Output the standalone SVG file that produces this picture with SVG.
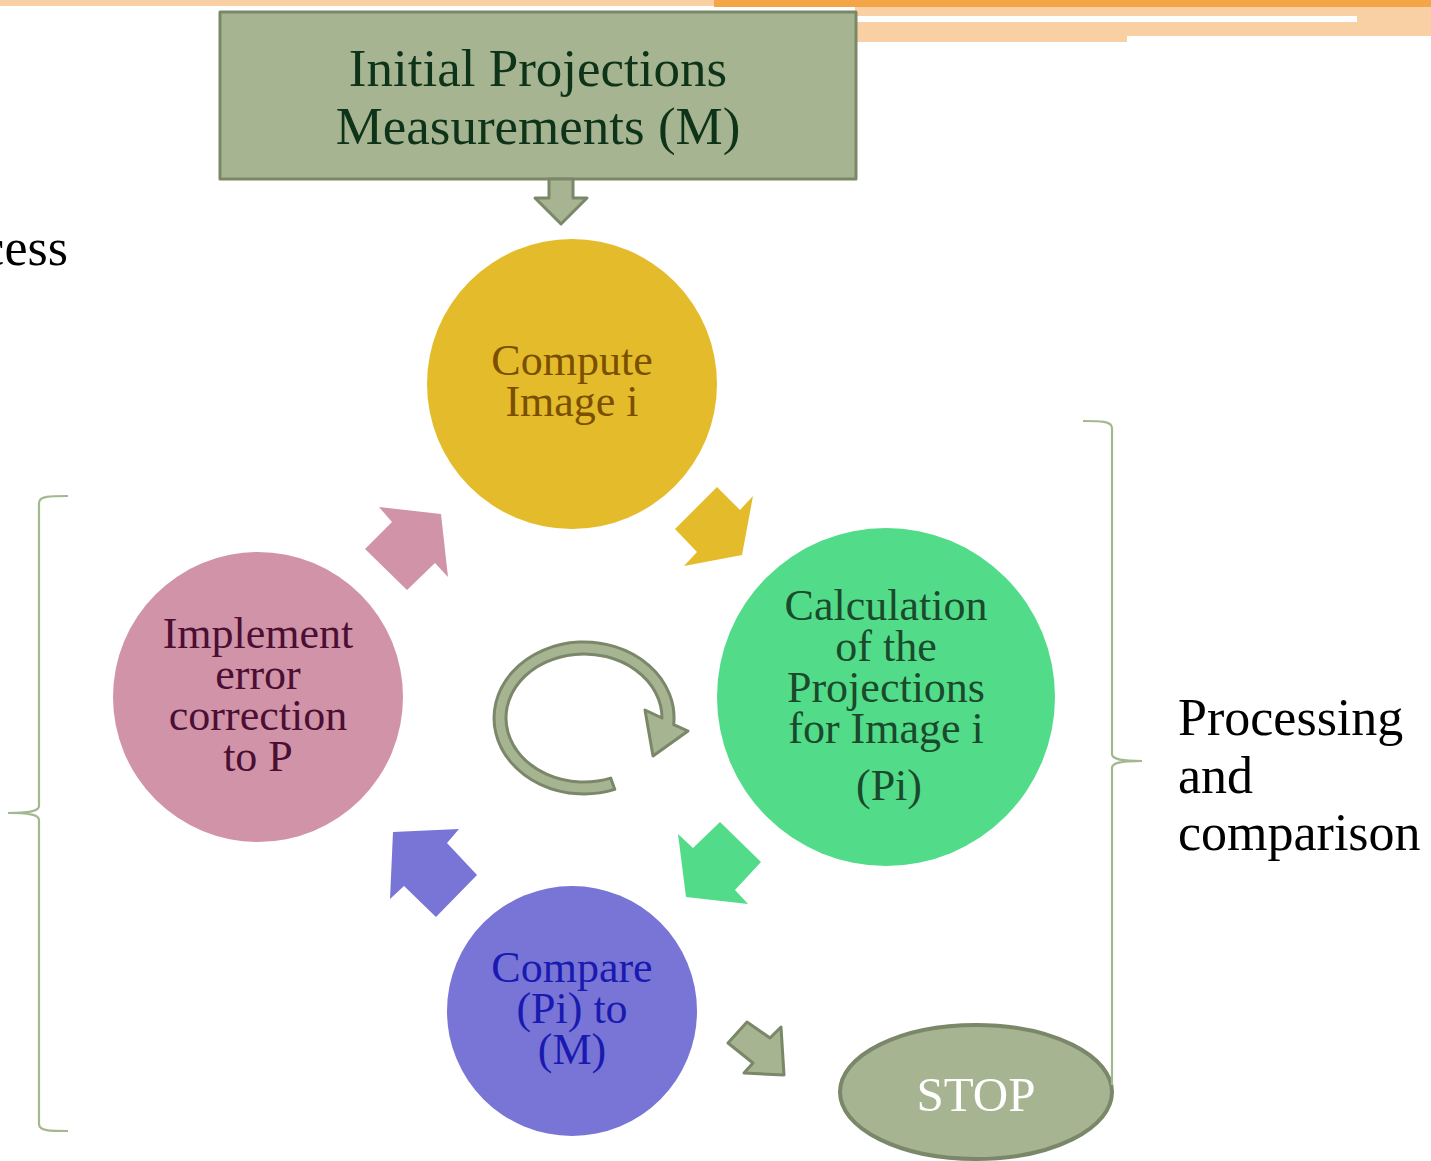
<svg xmlns="http://www.w3.org/2000/svg" width="1431" height="1161" viewBox="0 0 1431 1161">
  <style>
    .serif { font-family: "Liberation Serif", "Times New Roman", serif; }
    .sage { fill: #a6b491; stroke: #7a8769; stroke-width: 3; stroke-linejoin: round; }
    .brace { fill: none; stroke: #a3b88f; stroke-width: 2.2; }
    .ctext { font-size: 44px; text-anchor: middle; }
    .side { font-size: 52px; fill: #000; }
  </style>
  <rect width="1431" height="1161" fill="#ffffff"/>

  <!-- header bands -->
  <g id="header">
    <rect x="0" y="0" width="714" height="6" fill="#f9d0a3"/>
    <rect x="714" y="0" width="717" height="7" fill="#f4a548"/>
    <rect x="855" y="7" width="576" height="29" fill="#f9d0a3"/>
    <rect x="855" y="36" width="272" height="6" fill="#f9d0a3"/>
    <rect x="855" y="16" width="502" height="6" fill="#ffffff"/>
  </g>

  <!-- partially visible side caption -->
  <text class="serif side" x="68" y="265" text-anchor="end">cess</text>

  <!-- source box -->
  <g id="measurements">
    <rect class="sage" x="220" y="12" width="636" height="167"/>
    <text class="serif" x="538" y="86" font-size="53" text-anchor="middle" fill="#0d3318">Initial Projections</text>
    <text class="serif" x="538" y="144" font-size="53" text-anchor="middle" fill="#0d3318">Measurements (M)</text>
  </g>

  <g id="compute">
    <circle cx="572" cy="384" r="145" fill="#e4bb2a"/>
    <text class="serif ctext" x="572" y="375" fill="#7a5000">Compute</text>
    <text class="serif ctext" x="572" y="416" fill="#7a5000">Image i</text>
  </g>

  <g id="calculation">
    <circle cx="886" cy="697" r="169" fill="#52dc8a"/>
    <text class="serif ctext" x="886" y="620" fill="#1a4a2b">Calculation</text>
    <text class="serif ctext" x="886" y="661" fill="#1a4a2b">of the</text>
    <text class="serif ctext" x="886" y="702" fill="#1a4a2b">Projections</text>
    <text class="serif ctext" x="886" y="743" fill="#1a4a2b">for Image i</text>
    <text class="serif ctext" x="889" y="800" fill="#1a4a2b">(Pi)</text>
  </g>

  <g id="compare">
    <circle cx="572" cy="1011" r="125" fill="#7875d6"/>
    <text class="serif ctext" x="572" y="982" fill="#1a1ab0">Compare</text>
    <text class="serif ctext" x="572" y="1023" fill="#1a1ab0">(Pi) to</text>
    <text class="serif ctext" x="572" y="1064" fill="#1a1ab0">(M)</text>
  </g>

  <g id="implement">
    <circle cx="258" cy="697" r="145" fill="#d193a7"/>
    <text class="serif ctext" x="258" y="648" fill="#4a0f32">Implement</text>
    <text class="serif ctext" x="258" y="689" fill="#4a0f32">error</text>
    <text class="serif ctext" x="258" y="730" fill="#4a0f32">correction</text>
    <text class="serif ctext" x="258" y="771" fill="#4a0f32">to P</text>
  </g>

  <g id="stop">
    <ellipse cx="976" cy="1092" rx="136" ry="67" fill="#a6b491" stroke="#7a8769" stroke-width="4"/>
    <text class="serif" x="976" y="1111" font-size="49" text-anchor="middle" fill="#ffffff">STOP</text>
  </g>

  <!-- connectors: block arrows, cycle symbol and braces -->
  <g id="connectors">
    <polygon class="sage" points="549,179 573,179 573,198 587,198 561,224 535,198 549,198"/>
    <polygon fill="#e4bb2a" points="717,487 740,510 753,496 742,555 684,566 697,552 675,529"/>
    <polygon fill="#52dc8a" points="720,822 761,862 735,890 748,904 686,897 678,834 693,848"/>
    <polygon fill="#7875d6" points="393,832 459,829 447,843 477,875 436,917 404,886 390,899"/>
    <polygon fill="#d193a7" points="379,507 441,514 448,577 435,563 407,590 365,549 392,522"/>
    <polygon class="sage" points="747,1022 770,1038 781,1027 784,1075 744,1073 753,1063 728,1043"/>

    <path class="sage" d="M614.8,789.4 A90,76 0 1 1 673.7,724.6 L688,731 L653,756 L645,710 L662,718 A78,64 0 1 0 610.7,778.1 Z"/>

    <path class="brace" d="M68,496 C50,496 39,496 39,503 L39,806 C39,811 30,813 8,813 C30,813 39,815 39,820 L39,1124 C39,1131 50,1131 68,1131"/>
    <path class="brace" d="M1083,421 C1100,421 1112,421 1112,428 L1112,754 C1112,759 1120,761 1142,761 C1120,761 1112,763 1112,768 L1112,1085"/>
  </g>

  <text class="serif side" x="1178" y="735">Processing</text>
  <text class="serif side" x="1178" y="793">and</text>
  <text class="serif side" x="1178" y="850">comparison</text>
</svg>
